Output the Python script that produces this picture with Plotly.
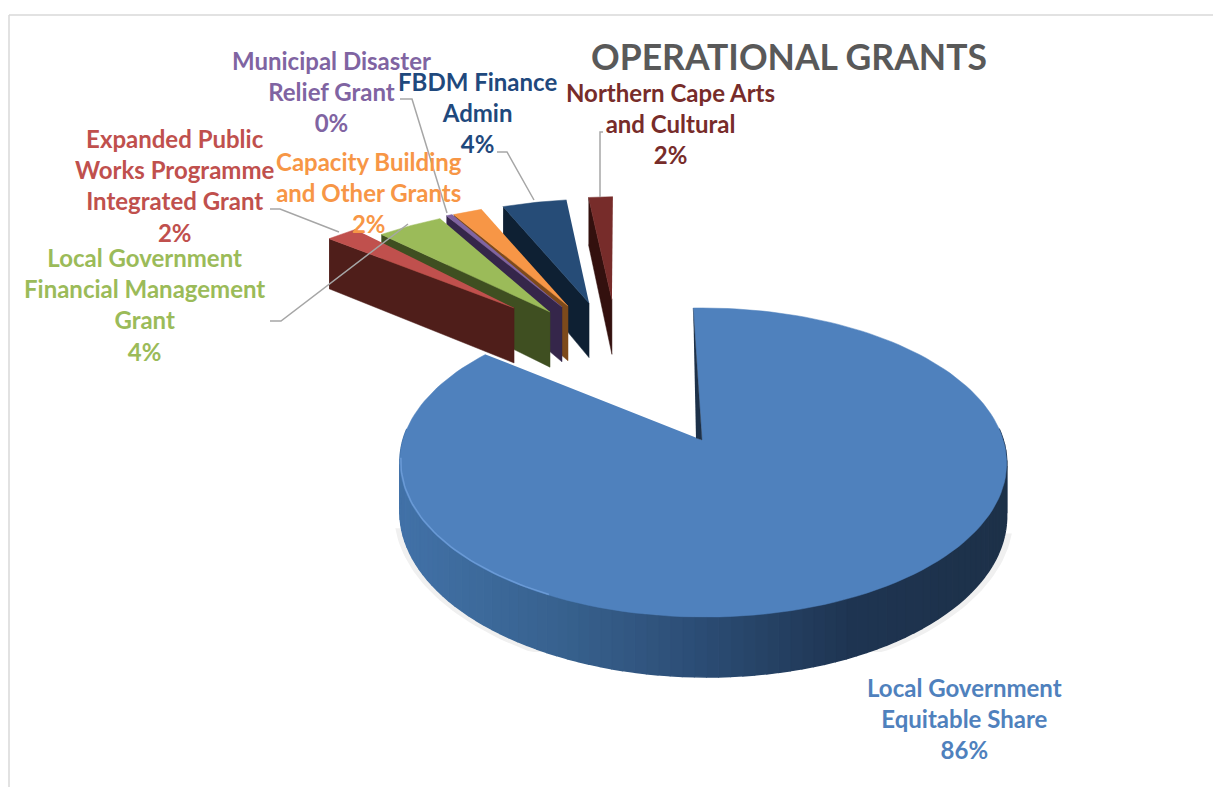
import numpy as np
import plotly.graph_objects as go

# ---- chart data ----
title = "OPERATIONAL GRANTS"
categories = ["Local Government<br>Equitable Share",
              "Expanded Public<br>Works Programme<br>Integrated Grant",
              "Local Government<br>Financial Management<br>Grant",
              "Municipal Disaster<br>Relief Grant",
              "Capacity Building<br>and Other Grants",
              "FBDM Finance<br>Admin",
              "Northern Cape Arts<br>and Cultural"]
shares = [85.7, 2.0, 4.2, 0.4, 1.9, 4.2, 1.6]

# ---- styles ----
top_colors = ["#4f81bd", "#c0504d", "#9bbb59", "#8064a2", "#f79646", "#264c77", "#772c2a"]
wall_colors = [None, "#4f1e1a", "#3f4f21", "#35264a", "#7d4a1b", "#0e2033", "#33100e"]
label_colors = ["#4f81bd", "#c0504d", "#9bbb59", "#8064a2", "#f79646", "#1f497d", "#772c2a"]
label_pos = [(964, 718), (175, 185), (144, 304), (331, 91), (369, 192), (477, 112), (670, 123)]
explode = [(0, 0), (-.705, 1.0), (-.562, .964), (-.519, 1.009), (-.496, 1.018), (-.4155, 1.045), (-.327, 1.073)]
slice_turn = [0, 0.5, -1.0, -2.2, -3.2, -2.5, -2.0]
leaders = [([270, 280, 339], [209, 209, 232]), ([270, 281, 408], [321, 321, 224]),
           ([400, 412, 447], [99, 99, 213]), ([497, 507, 534], [152, 152, 200]),
           ([603, 600, 600], [132, 132, 197])]

# ---- perspective ----
CX, CY, R, R2, K, M = 695, 437, 299, 150.3, .165, .027
H_MAIN, H_SLICE, SLICE_R, ROT = 50, 64, 1.1, -0.4
MAIN_TIP = (.0234, -.02)
CUT_TIP = (.0033, -.0067)


def project(u, v, h=0, m=0.0):
    u, v = np.asarray(u, float), np.asarray(v, float)
    w = 1 + K * v - m * u
    return CX + R * u / w, CY - R2 * v / w + h / w


def arc(a0, a1, n, r=1.0):
    t = np.radians(np.linspace(a0, a1, n))
    return r * np.sin(t), r * np.cos(t)


def poly(fig, xs, ys, color, name, lw=0.5):
    fig.add_trace(go.Scatter(x=list(xs), y=list(ys), mode="lines", fill="toself", fillcolor=color,
                             line=dict(width=lw, color=color), hoverinfo="skip", name=name, showlegend=False))


def grad(x):
    stops = [400, 560, 700, 850, 1007]
    cols = np.array([[0x42, 0x72, 0xa8], [0x38, 0x62, 0x8f], [0x2c, 0x4d, 0x75], [0x1f, 0x35, 0x52], [0x1d, 0x31, 0x49]])
    return "rgb(%d,%d,%d)" % tuple(np.interp(x, stops, cols[:, i]) for i in range(3))


fig = go.Figure()
edges = np.cumsum([0] + shares) * 3.6 + ROT

# exploded slices, back to front
for i in range(len(shares) - 1, 0, -1):
    a0, a1 = edges[i] + slice_turn[i], edges[i + 1] + slice_turn[i]
    du, dv = explode[i]
    au, av = arc(a0, a1, 24, SLICE_R)
    name = categories[i].replace("<br>", " ")
    wx0, wy0 = project([du + au[0], du], [dv + av[0], dv], 0)
    wx1, wy1 = project([du, du + au[0]], [dv, dv + av[0]], H_SLICE)
    poly(fig, np.r_[wx0, wx1], np.r_[wy0, wy1], wall_colors[i], name + " side")
    tx, ty = project(np.r_[du, du + au], np.r_[dv, dv + av], 0)
    poly(fig, tx, ty, top_colors[i], name)

# main slice: soft shadow, rim, then top
a0, a1 = edges[0], edges[1]
su, sv = arc(105, 255, 120, 1.02)
sx, sy = project(su, sv, H_MAIN, M)
poly(fig, sx, np.minimum(sy, 652), "#f0f0f0", "shadow", lw=0)
au, av = arc(a0, a1, 160)
for j in range(len(au) - 1):
    if av[j] > 0.05 and av[j + 1] > 0.05:
        continue
    x0, y0 = project(au[j:j + 2], av[j:j + 2], 0, M)
    x1, y1 = project(au[j:j + 2][::-1], av[j:j + 2][::-1], H_MAIN, M)
    poly(fig, np.r_[x0, x1], np.r_[y0, y1], grad(x0.mean()), "main rim", lw=1.5)
tx, ty = project(np.r_[MAIN_TIP[0], au], np.r_[MAIN_TIP[1], av], 0, M)
poly(fig, tx, ty, top_colors[0], categories[0].replace("<br>", " "))
cx, cy = project([au[0], MAIN_TIP[0], CUT_TIP[0]], [av[0], MAIN_TIP[1], CUT_TIP[1]], 0, M)
poly(fig, cx, cy, "#1d3149", "main cut face", lw=0.3)
hu, hv = arc(205, 262, 50, 0.997)
hx, hy = project(hu, hv, 0, M)
fig.add_trace(go.Scatter(x=hx, y=hy, mode="lines", line=dict(color="#6a9ad6", width=1.5), hoverinfo="skip", showlegend=False))

# leader lines
for lx, ly in leaders:
    fig.add_trace(go.Scatter(x=lx, y=ly, mode="lines", line=dict(color="#a6a6a6", width=1.5), hoverinfo="skip", showlegend=False))

anns = [dict(x=789, y=56, text="<b>%s</b>" % title, showarrow=False, xanchor="center", yanchor="middle",
             font=dict(family="Lato", size=35.5, color="#595959"))]
for c, s, col, (x, y) in zip(categories, shares, label_colors, label_pos):
    anns.append(dict(x=x, y=y, text="<b>%s<br>%.0f%%</b>" % (c, s), showarrow=False, xanchor="center", yanchor="middle",
                     font=dict(family="Lato", size=24, color=col)))

fig.update_layout(width=1213, height=787, margin=dict(l=0, r=0, t=0, b=0), showlegend=False,
                  plot_bgcolor="white", paper_bgcolor="white", annotations=anns,
                  xaxis=dict(range=[0, 1213], visible=False, fixedrange=True),
                  yaxis=dict(range=[787, 0], visible=False, fixedrange=True),
                  shapes=[dict(type="line", x0=9, x1=1213, y0=15, y1=15, line=dict(color="#d9d9d9", width=1.5), layer="below"),
                          dict(type="line", x0=9, x1=9, y0=15, y1=787, line=dict(color="#d9d9d9", width=1.5), layer="below")])
fig.write_html("out.html", config=dict(displayModeBar=False),
               post_script="document.body.style.margin='0';")
